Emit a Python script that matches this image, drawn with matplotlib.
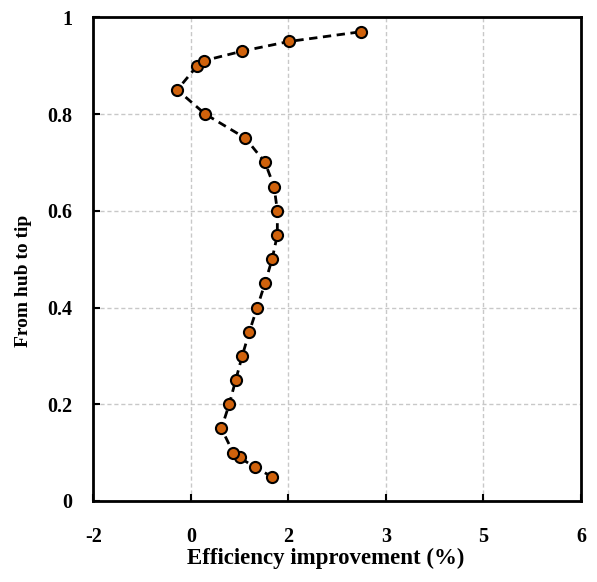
import numpy as np
import matplotlib.pyplot as plt
from matplotlib.ticker import FixedLocator, FixedFormatter

# efficiency improvement (%) along the span, hub -> tip
span = [0.05, 0.07, 0.09, 0.10, 0.15, 0.20, 0.25, 0.30, 0.35, 0.40, 0.45,
        0.50, 0.55, 0.60, 0.65, 0.70, 0.75, 0.80, 0.85, 0.90, 0.91, 0.93,
        0.95, 0.97]
eff = [1.25, 0.98, 0.75, 0.65, 0.47, 0.59, 0.69, 0.79, 0.90, 1.02, 1.14,
       1.25, 1.33, 1.33, 1.28, 1.14, 0.84, 0.22, -0.21, 0.10, 0.195, 0.79,
       1.51, 2.61]

xticks = [-1.5, 0, 1.5, 3, 4.5, 6]
xticklabels = ['-2', '0', '2', '3', '5', '6']
yticks = [0, 0.2, 0.4, 0.6, 0.8, 1]
yticklabels = ['0', '0.2', '0.4', '0.6', '0.8', '1']

plt.rcParams['font.family'] = ['Liberation Serif', 'DejaVu Serif']
plt.rcParams['font.weight'] = 'bold'

fig = plt.figure(figsize=(5.97, 5.82), dpi=100)
ax = fig.add_axes([0.1563, 0.1392, 0.8169, 0.8311])

ax.plot(eff, span, color='black', linestyle='--', linewidth=2, dashes=(3, 2),
        marker='o', markersize=8, markerfacecolor='#d0620c',
        markeredgecolor='black', markeredgewidth=1.5, zorder=3)

ax.set_xlim(-1.5, 6)
ax.set_ylim(0, 1)
ax.xaxis.set_major_locator(FixedLocator(xticks))
ax.xaxis.set_major_formatter(FixedFormatter(xticklabels))
ax.yaxis.set_major_locator(FixedLocator(yticks))
ax.yaxis.set_major_formatter(FixedFormatter(yticklabels))

ax.grid(True, color='#c8c8c8', linestyle='--', linewidth=1, dashes=(3, 2))
ax.set_axisbelow(True)
for s in ax.spines.values():
    s.set_linewidth(2)
ax.tick_params(direction='in', length=5, width=1.5, labelsize=14.5)
ax.tick_params(axis='x', pad=19)
ax.tick_params(axis='y', pad=15)

ax.set_xlabel('Efficiency improvement (%)', fontsize=16.5, fontweight='bold', labelpad=0)
ax.xaxis.set_label_coords(0.477, -0.096)
ax.set_ylabel('From hub to tip', fontsize=14, fontweight='bold', labelpad=10)
ax.yaxis.set_label_coords(-0.125, 0.455)

fig.savefig('out.png', dpi=100)
